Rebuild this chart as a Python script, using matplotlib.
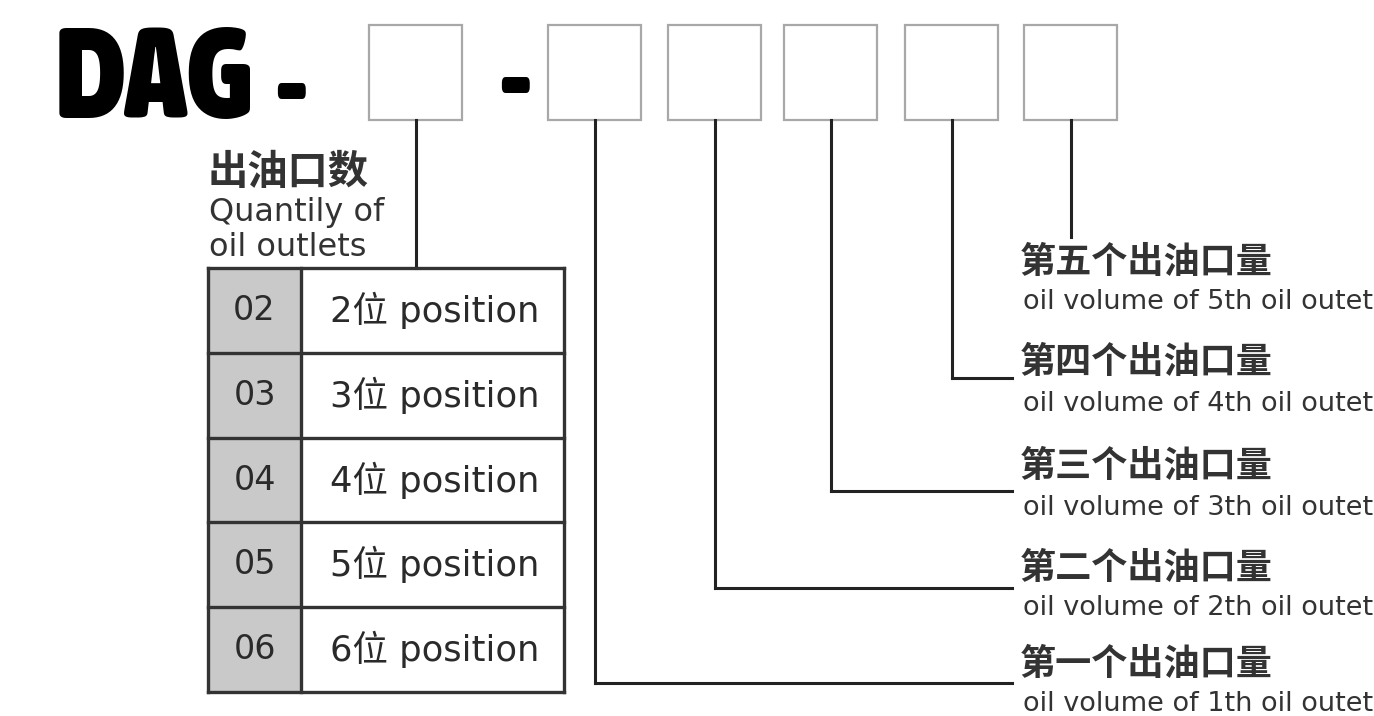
import matplotlib
matplotlib.use('Agg')
import matplotlib.pyplot as plt
from matplotlib.patches import Rectangle
from matplotlib import font_manager

# model code parts
prefix = 'DAG'
count_cn = '出油口数'
count_en = ['Quantily of', 'oil outlets']
codes = ['02', '03', '04', '05', '06']
positions = ['2位 position', '3位 position', '4位 position', '5位 position', '6位 position']
outlet_cn = ['第一个出油口量', '第二个出油口量', '第三个出油口量', '第四个出油口量', '第五个出油口量']
outlet_en = ['oil volume of 1th oil outet', 'oil volume of 2th oil outet',
             'oil volume of 3th oil outet', 'oil volume of 4th oil outet',
             'oil volume of 5th oil outet']

W, H = 1374, 716
fig = plt.figure(figsize=(W / 100, H / 100), dpi=100)
ax = fig.add_axes([0, 0, 1, 1])
ax.set_xlim(0, W)
ax.set_ylim(H, 0)
ax.axis('off')

LAT = ['DejaVu Sans', 'Noto Sans CJK SC']
CJK = ['Noto Sans CJK SC', 'DejaVu Sans']
LINE = '#222222'


def wt(w):
    return font_manager.weight_dict.get(w, 400) if isinstance(w, str) else int(w)


# pick the heaviest / narrowest face installed for the "DAG" prefix
def pick_heavy():
    fonts = font_manager.fontManager.ttflist
    tests = [
        lambda f: ('condensed' in str(f.stretch) or 'Narrow' in f.name or 'Condensed' in f.name)
                  and wt(f.weight) >= 700 and 'italic' not in f.style,
        lambda f: f.name in ('Roboto', 'Lato', 'Inter') and wt(f.weight) >= 850
                  and f.style == 'normal',
        lambda f: f.name in ('Roboto', 'Lato', 'Inter', 'Open Sans') and wt(f.weight) >= 750
                  and f.style == 'normal',
    ]
    for test in tests:
        hits = [f for f in fonts if test(f)]
        if hits:
            hits.sort(key=lambda f: -wt(f.weight))
            return font_manager.FontProperties(fname=hits[0].fname)
    return font_manager.FontProperties(family='DejaVu Sans', weight='bold')


big = pick_heavy()

# header "DAG - [] - [][][][][]"
t = ax.text(55, 118, prefix, fontproperties=big, fontsize=100,
            ha='left', va='baseline', color='black')
fig.canvas.draw()
bb = t.get_window_extent()
t.set_fontsize(100 * 200 / bb.width)
fs = t.get_fontsize()
ax.text(291, 125, '-', fontproperties=big, fontsize=fs,
        ha='center', va='baseline', color='black')
ax.text(515, 119, '-', fontproperties=big, fontsize=fs,
        ha='center', va='baseline', color='black')

box_x = [369, 548, 668, 784, 905, 1024]
box_w, box_top, box_h = 93, 25, 95
for bx in box_x:
    ax.add_patch(Rectangle((bx, box_top), box_w, box_h, fill=False,
                           edgecolor='#a8a8a8', lw=1.6))

# left: quantity of outlets
ax.text(208, 172, count_cn, fontsize=29, fontweight='bold', family=CJK,
        ha='left', va='center', color='#333333')
ax.text(209, 213, count_en[0], fontsize=23, family=LAT,
        ha='left', va='center', color='#333333')
ax.text(209, 247, count_en[1], fontsize=23, family=LAT,
        ha='left', va='center', color='#333333')

cx0 = box_x[0] + box_w / 2
ax.plot([cx0, cx0], [box_top + box_h, 268], color=LINE, lw=2.2)

# table
tx0, tx1, tx2 = 208, 301, 564
ty0, row_h = 268, 84.8
n = len(codes)
ax.add_patch(Rectangle((tx0, ty0), tx1 - tx0, row_h * n, facecolor='#c9c9c9',
                       edgecolor='none'))
for i, (c, p) in enumerate(zip(codes, positions)):
    yc = ty0 + row_h * (i + 0.5)
    ax.text((tx0 + tx1) / 2, yc, c, fontsize=24, family=LAT,
            ha='center', va='center', color='#2a2a2a')
    ax.text(330, yc, p, fontsize=25.5, family=LAT,
            ha='left', va='center', color='#2a2a2a')
for i in range(n + 1):
    y = ty0 + row_h * i
    ax.plot([tx0, tx2], [y, y], color='#333333', lw=2.4, solid_capstyle='projecting')
for x in (tx0, tx1, tx2):
    ax.plot([x, x], [ty0, ty0 + row_h * n], color='#333333', lw=2.4,
            solid_capstyle='projecting')

# right: outlet volumes (1th..5th)
line_y = [683, 588, 491, 378, 237]
cn_y = [664, 568, 466, 362, 262]
en_y = [704, 608, 508, 404, 302]
x_end = 1012
for k in range(5):
    cx = box_x[k + 1] + box_w / 2
    ax.plot([cx, cx], [box_top + box_h, line_y[k]], color=LINE, lw=2.2)
    if k < 4:
        ax.plot([cx, x_end], [line_y[k], line_y[k]], color=LINE, lw=2.2)
    ax.text(1020, cn_y[k], outlet_cn[k], fontsize=26, fontweight='bold', family=CJK,
            ha='left', va='center', color='#333333')
    ax.text(1023, en_y[k], outlet_en[k], fontsize=19.5, family=LAT,
            ha='left', va='center', color='#333333')

fig.savefig('out.png', dpi=100)
